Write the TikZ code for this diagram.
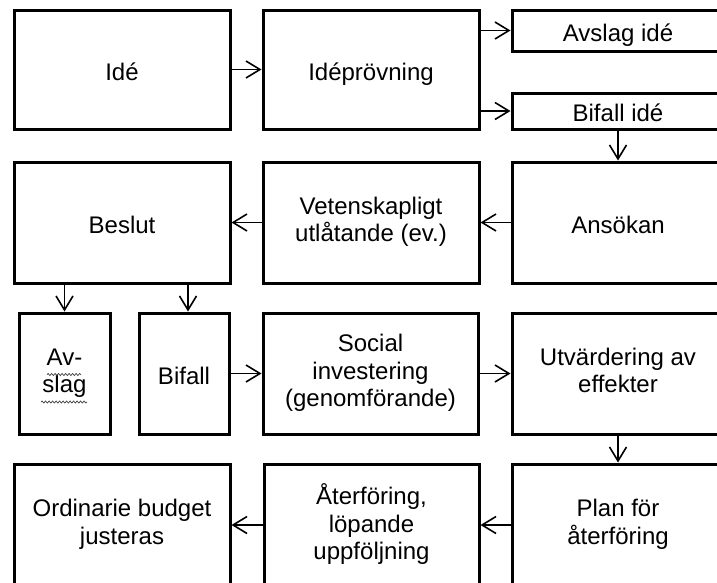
\documentclass[tikz,border=0pt]{standalone}
\usepackage{fontspec}
\setmainfont{Liberation Sans}
\usetikzlibrary{arrows.meta,decorations.pathmorphing}
\newcommand{\boxstrut}{\rule[-6pt]{0pt}{33pt}}
\begin{document}
\begin{tikzpicture}[x=1pt,y=-1pt,
  box/.style={draw, line width=3pt, inner sep=0pt, align=center,
    font=\fontsize{24}{27.5}\selectfont,
    execute at begin node=\boxstrut, execute at end node=\boxstrut},
  conn/.style={line width=1.6pt, -{Straight Barb[length=14pt,width=17pt,line width=1.6pt]}},
  squiggle/.style={decorate, decoration={snake, amplitude=1pt, segment length=3.5pt}, line width=0.7pt, black!75}]
\useasboundingbox (0,0) rectangle (717,582);
\fill[white] (0,0) rectangle (717,582);
\clip (0,0) rectangle (717,582);
% row 1
\node[box, minimum width=216pt, minimum height=119pt] (idea) at (122,69.5) {Idé};
\node[box, minimum width=216pt, minimum height=119pt] (ideprov) at (371,69.5) {Idéprövning};
\node[box, minimum width=212pt, minimum height=41pt] (avslagide) at (618,30.5) {Avslag idé};
\node[box, minimum width=212pt, minimum height=36pt] (bifallide) at (618,111) {Bifall idé};
% row 2
\node[box, minimum width=216pt, minimum height=121pt] (beslut) at (122,222.5) {Beslut};
\node[box, minimum width=216pt, minimum height=121pt] (vetensk) at (371,222.5) {Vetenskapligt\\utlåtande (ev.)};
\node[box, minimum width=212pt, minimum height=121pt] (ansokan) at (618,222.5) {Ansökan};
% row 3
\node[box, minimum width=91pt, minimum height=121pt] (avslag) at (64.5,373.5) {Av-\\slag};
\node[box, minimum width=90pt, minimum height=121pt] (bifall) at (184,373.5) {Bifall};
\node[box, minimum width=215pt, minimum height=121pt] (social) at (370.5,373.5) {Social\\investering\\(genomförande)};
\node[box, minimum width=212pt, minimum height=121pt] (utvard) at (618,373.5) {Utvärdering av\\effekter};
% row 4
\node[box, minimum width=216pt, minimum height=122pt] (ordinarie) at (122,525) {Ordinarie budget\\justeras};
\node[box, minimum width=215pt, minimum height=122pt] (aterforing) at (371.5,525) {Återföring,\\löpande\\uppföljning};
\node[box, minimum width=212pt, minimum height=122pt] (plan) at (618,525) {Plan för\\återföring};
% connectors
\draw[conn] (idea.east) -- (ideprov.west);
\draw[conn] (ideprov.east |- avslagide.west) -- (avslagide.west);
\draw[conn] (ideprov.east |- bifallide.west) -- (bifallide.west);
\draw[conn] (bifallide.south) -- (bifallide.south |- ansokan.north);
\draw[conn] (ansokan.west) -- (vetensk.east);
\draw[conn] (vetensk.west) -- (beslut.east);
\draw[conn] (beslut.south -| avslag.north) -- (avslag.north);
\draw[conn] ([xshift=4pt]bifall.north |- beslut.south) -- ([xshift=4pt]bifall.north);
\draw[conn] (bifall.east) -- (social.west);
\draw[conn] (social.east) -- (utvard.west);
\draw[conn] (utvard.south) -- (plan.north);
\draw[conn] (plan.west) -- (aterforing.east);
\draw[conn] (aterforing.west) -- (ordinarie.east);
% spell-check squiggles
\draw[squiggle] (47,374.5) -- (81,374.5);
\draw[squiggle] (41,402) -- (87,402);
\end{tikzpicture}
\end{document}
